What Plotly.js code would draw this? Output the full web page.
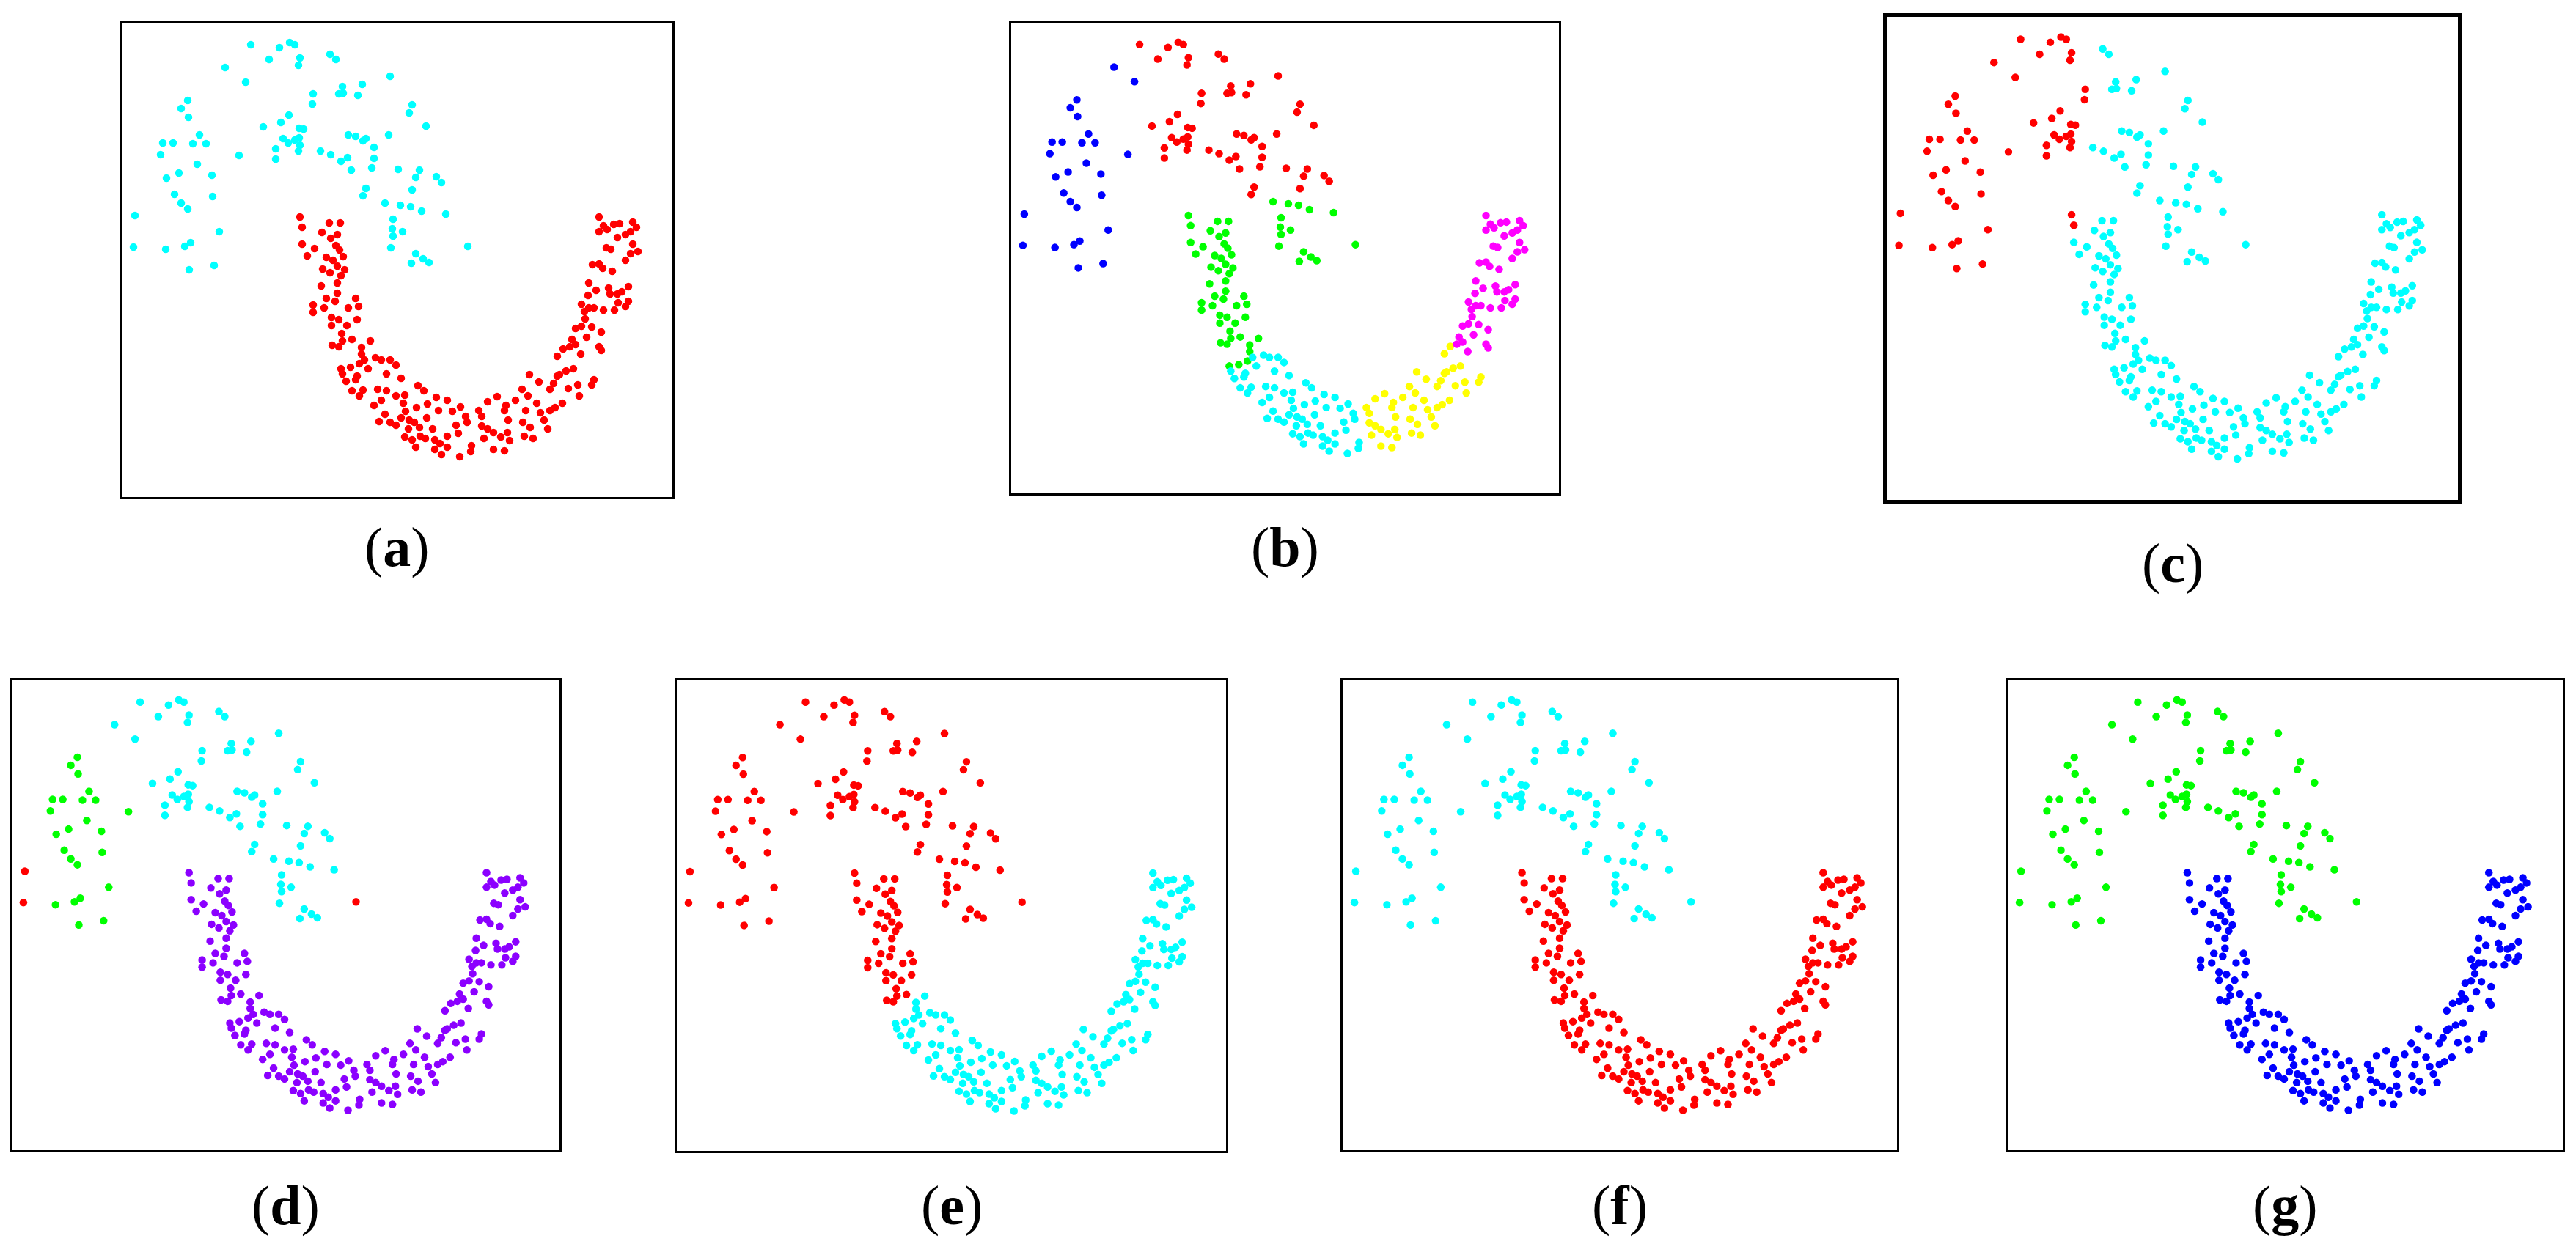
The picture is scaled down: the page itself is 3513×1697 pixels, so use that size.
<!DOCTYPE html>
<html><head><meta charset="utf-8">
<script src="https://cdn.plot.ly/plotly-3.0.1.min.js"></script>
<style>html,body{margin:0;padding:0;background:#fff;} #chart{width:3513px;height:1697px;}</style>
</head><body><div id="chart"></div>
<script>
// ---- point data (x, y); same two-moons data set in every panel ----
const upperNoiseLeft = [[20,386],[18,343]];
const upperTopLeft = [[143,588],[171,568]];
const upperLeftArm = [[92,543],[83,532],[93,520],[108,496],[58,485],[72,485],[99,484],[117,484],[55,469],[162,468],[105,456],[80,444],[63,437],[125,441],[74,415],[83,403],[92,395],[126,412],[135,364],[62,340],[88,344],[96,349],[128,318],[94,312]];
const upperMiddle = [[178,619],[217,615],[231,622],[238,619],[203,599],[245,601],[243,591],[263,552],[262,538],[230,523],[219,513],[195,507],[244,505],[250,504],[222,491],[229,485],[238,489],[244,492],[245,482],[243,474],[212,477],[212,463]];
const upperRight = [[286,606],[294,599],[368,576],[330,565],[303,562],[298,552],[304,553],[324,550],[398,537],[394,526],[417,508],[273,474],[287,469],[311,496],[321,494],[331,488],[335,491],[366,496],[346,479],[346,464],[310,465],[301,460],[315,448],[343,451],[379,449],[408,448],[403,438],[431,439],[438,431],[335,423],[331,413],[398,421]];
const upperTail = [[361,403],[382,400],[396,398],[411,392],[444,388],[372,381],[371,368],[372,358],[385,364],[369,342],[403,334],[413,327],[421,322],[397,321]];
const upperNoiseRight = [[474,344]];

const lowerTop = [[245,384],[248,370]];
const lowerLeftArm = [[285,376],[300,376],[275,363],[287,355],[296,360],[248,347],[265,341],[255,331],[294,345],[299,339],[304,330],[281,329],[290,325],[296,317],[306,312],[276,313],[286,308],[301,304],[274,290],[296,294],[296,280],[281,273],[278,260],[293,269],[263,264],[263,254],[321,273],[325,262],[311,260],[288,247],[298,244],[323,244],[288,236],[309,236],[302,225],[303,215],[316,217],[289,209],[298,207]];
const lowerTransition = [[341,215],[329,206],[329,197],[326,184],[301,177],[314,179]];
const lowerBottomLeft = [[333,189],[348,192],[356,189],[368,189],[376,182],[338,177],[303,170],[323,167],[363,170],[383,164],[308,160],[321,162],[316,147],[331,148],[326,140],[351,149],[363,147],[346,127],[356,134],[376,140],[388,141],[386,130],[406,154],[414,147],[353,105],[361,115],[368,104],[376,100],[383,110],[389,119],[394,107],[401,104],[393,95],[408,97],[404,124],[419,129],[431,138],[446,134],[418,110],[434,120],[453,119],[464,125],[471,112],[473,104],[458,100],[388,84],[398,80],[409,85],[426,95],[416,82],[429,80],[436,75],[446,85],[461,89],[403,70],[429,67],[438,60],[446,70],[463,57],[478,64],[479,72]];
const lowerBottomRight = [[489,120],[493,112],[501,132],[514,139],[526,127],[524,120],[529,107],[493,99],[501,95],[509,90],[496,82],[519,84],[528,90],[531,79],[509,67],[524,65],[539,134],[548,149],[556,140],[553,120],[558,169],[571,159],[549,104],[559,97],[551,85],[563,82],[568,130],[573,117],[578,107],[583,95],[586,149],[591,157],[596,167],[586,120],[593,124],[603,130],[611,150],[624,155],[626,140],[646,162],[643,155],[608,174],[618,177],[599,169],[596,194],[604,204]];
const lowerRightArm = [[613,207],[616,217],[621,210],[628,197],[636,220],[621,232],[629,235],[643,234],[656,227],[653,207],[656,202],[634,245],[633,255],[629,265],[639,260],[646,260],[659,257],[674,257],[689,262],[638,277],[639,294],[649,284],[666,287],[668,279],[678,279],[679,267],[693,289],[693,269],[684,282],[644,319],[653,320],[658,314],[671,310],[689,325],[696,334],[699,347],[706,337],[663,342],[669,340],[653,364],[659,372],[664,367],[673,374],[681,375],[678,356],[689,360],[696,364],[699,377],[704,370],[653,384]];

// ---- panel labels and cluster membership (by segment) ----
const panelLetters = ['a','b','c','d','e','f','g'];
const upperAll = ['upperNoiseLeft','upperTopLeft','upperLeftArm','upperMiddle','upperRight','upperTail','upperNoiseRight'];
const lowerAll = ['lowerTop','lowerLeftArm','lowerTransition','lowerBottomLeft','lowerBottomRight','lowerRightArm'];
const clustersA = [upperAll, lowerAll];
const clustersB = [['upperNoiseLeft','upperTopLeft','upperLeftArm'], ['upperMiddle','upperRight'], ['upperTail','upperNoiseRight','lowerTop','lowerLeftArm','lowerTransition'], ['lowerBottomLeft'], ['lowerBottomRight'], ['lowerRightArm']];
const clustersC = [['upperNoiseLeft','upperTopLeft','upperLeftArm','upperMiddle','lowerTop'], ['upperRight','upperTail','upperNoiseRight','lowerLeftArm','lowerTransition','lowerBottomLeft','lowerBottomRight','lowerRightArm']];
const clustersD = [['upperNoiseLeft','upperNoiseRight'], ['upperLeftArm'], ['upperTopLeft','upperMiddle','upperRight','upperTail'], lowerAll];
const clustersE = [upperAll.concat(['lowerTop','lowerLeftArm']), ['lowerTransition','lowerBottomLeft','lowerBottomRight','lowerRightArm']];
const clustersF = [upperAll, lowerAll];
const clustersG = [upperAll, lowerAll];

// ---- styling / layout ----
const segments = {upperNoiseLeft, upperTopLeft, upperLeftArm, upperMiddle, upperRight, upperTail, upperNoiseRight,
  lowerTop, lowerLeftArm, lowerTransition, lowerBottomLeft, lowerBottomRight, lowerRightArm};
const CY='#00ffff', RD='#ff0000', BL='#0000ff', GR='#00ff00', YE='#ffff00', MG='#ff00ff', PU='#8b00ff';
const panelClusters = [clustersA, clustersB, clustersC, clustersD, clustersE, clustersF, clustersG];
const panelColors = [[CY,RD],[BL,RD,GR,CY,YE,MG],[RD,CY],[RD,GR,CY,PU],[RD,CY],[CY,RD],[GR,BL]];
// inner box edges in pixels: left, right, top, bottom
const boxes = [[166,917,31,678],[1379,2126,31,673],[2573,3352,23,682],[16,763,928,1569],[923,1672,928,1570],[1831,2587,928,1569],[2738,3495,928,1569]];
const lineW = [3,3,5,3,3,3,3];
const labelY = [746,746,768,1644,1644,1644,1644];
const W=3513, H=1697;

const traces=[]; const layout={width:W,height:H,margin:{l:0,r:0,t:0,b:0},paper_bgcolor:'#fff',plot_bgcolor:'#fff',showlegend:false,annotations:[]};
panelLetters.forEach((letter,i)=>{
  const n=i+1, xa='x'+(n===1?'':n), ya='y'+(n===1?'':n);
  const b=boxes[i];
  panelClusters[i].forEach((segNames,k)=>{
    const pts=[].concat(...segNames.map(s=>segments[s]));
    traces.push({type:'scatter',mode:'markers',x:pts.map(p=>p[0]),y:pts.map(p=>p[1]),xaxis:xa,yaxis:ya,
      marker:{size:10.5,color:panelColors[i][k],line:{width:0}},hoverinfo:'skip',cliponaxis:false});
  });
  const ax={showgrid:false,zeroline:false,showticklabels:false,ticks:'',showline:true,mirror:true,linecolor:'#000',linewidth:lineW[i],fixedrange:true};
  layout['xaxis'+(n===1?'':n)]=Object.assign({},ax,{domain:[b[0]/W,b[1]/W],range:[2,753],anchor:'y'+(n===1?'':n)});
  layout['yaxis'+(n===1?'':n)]=Object.assign({},ax,{domain:[1-b[3]/H,1-b[2]/H],range:[2,649],anchor:'x'+(n===1?'':n)});
  layout.annotations.push({xref:'paper',yref:'paper',x:(b[0]+b[1])/2/W,y:1-labelY[i]/H,xanchor:'center',yanchor:'middle',showarrow:false,
    text:'(<b>'+letter+'</b>)',font:{family:'Liberation Serif, Times New Roman, serif',size:76,color:'#000'}});
});
Plotly.newPlot('chart',traces,layout,{staticPlot:true,displayModeBar:false});
</script></body></html>
